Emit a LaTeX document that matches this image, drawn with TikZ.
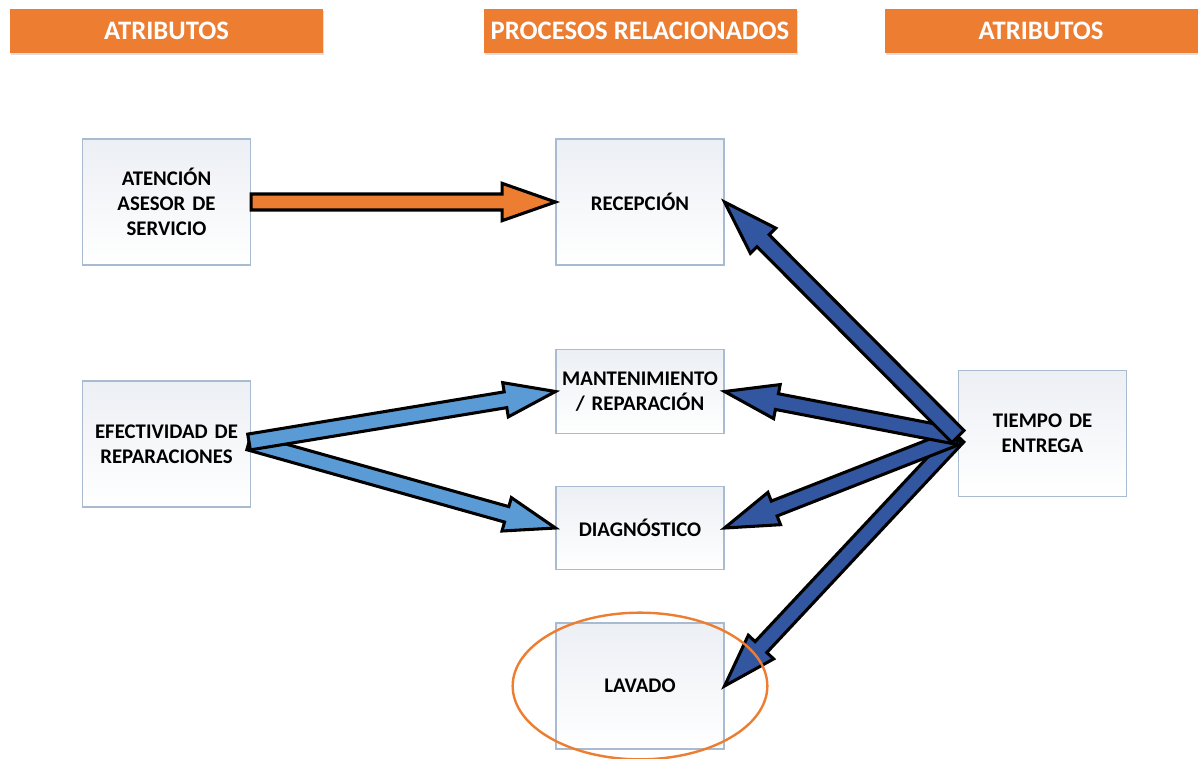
\documentclass[tikz,border=0pt]{standalone}
\usepackage{fontspec}
\setmainfont{Carlito}
\usetikzlibrary{calc,shadows}

\definecolor{hdrorange}{HTML}{ED7D31}
\definecolor{lightblue}{HTML}{5B9BD5}
\definecolor{darkblue}{HTML}{3356A0}
\definecolor{boxedge}{HTML}{A9BBD0}
\definecolor{boxtop}{HTML}{ECEFF4}

% block arrow: style, tail, tip, shaft half-width, head length, head half-width
\newcommand{\blockarrow}[6]{%
  \path ($(#3)!#5!(#2)$) coordinate (ba-n);
  \draw[#1] ($(#2)!#4!90:(#3)$) -- ($(ba-n)!#4!90:(#3)$) -- ($(ba-n)!#6!90:(#3)$)
    -- (#3) -- ($(ba-n)!#6!-90:(#3)$) -- ($(ba-n)!#4!-90:(#3)$)
    -- ($(#2)!#4!-90:(#3)$) -- cycle;
}

\begin{document}
\begin{tikzpicture}[x=0.75pt,y=-0.75pt,
  header/.style={fill=hdrorange, text=white, font=\bfseries\fontsize{20}{24}\selectfont,
    minimum width=234.75pt, minimum height=33pt, inner sep=0pt,
    drop shadow={opacity=0.25, shadow xshift=1pt, shadow yshift=-1.2pt}},
  proc/.style={draw=boxedge, line width=0.8pt, top color=boxtop, bottom color=white,
    minimum width=126pt, inner sep=1pt, text width=124pt, align=center,
    font=\bfseries\fontsize{15.6}{18.8}\selectfont},
  tallbox/.style={proc, minimum height=94.5pt},
  shortbox/.style={proc, minimum height=62.5pt},
  arrowline/.style={draw=black, line width=2.3pt, line join=miter, miter limit=10},
  highlight/.style={draw=hdrorange, line width=1.8pt}]

\useasboundingbox (0,0) rectangle (1198,758);
\fill[white] (0,0) rectangle (1198,758);

% column headers
\node[header] (h1) at (166.5,31) {ATRIBUTOS};
\node[header] (h2) at (640,31) {PROCESOS RELACIONADOS};
\node[header] (h3) at (1041,31) {ATRIBUTOS};

% attribute and process boxes
\node[tallbox] (ate) at (166.5,202) {ATENCIÓN\\ASESOR DE\\SERVICIO};
\node[tallbox] (rec) at (640,202) {RECEPCIÓN};
\node[tallbox] (efe) at (166.5,444) {EFECTIVIDAD DE\\REPARACIONES};
\node[shortbox] (man) at (640,391.5) {MANTENIMIENTO\\/ REPARACIÓN};
\node[shortbox] (dia) at (640,528) {DIAGNÓSTICO};
\node[tallbox] (lav) at (640,686) {LAVADO};
\node[tallbox] (tie) at (1042.5,433.5) {TIEMPO DE\\ENTREGA};

% tail points of the arrow groups
\coordinate (efe-out) at ($(efe.east)+(-2,-2)$);
\coordinate (hub) at ($(tie.west)+(0,3)$);

% attention -> reception
\blockarrow{arrowline, fill=hdrorange}{ate.east}{rec.west}{6pt}{40pt}{14pt}

% repair effectiveness -> maintenance / diagnosis
\blockarrow{arrowline, fill=lightblue}{efe-out}{dia.west}{6pt}{38pt}{13pt}
\blockarrow{arrowline, fill=lightblue}{efe-out}{man.west}{6pt}{38pt}{13pt}

% delivery time -> processes
\blockarrow{arrowline, fill=darkblue}{hub}{lav.east}{6pt}{40pt}{13pt}
\blockarrow{arrowline, fill=darkblue}{hub}{dia.east}{6pt}{40pt}{13pt}
\blockarrow{arrowline, fill=darkblue}{hub}{man.east}{6pt}{40pt}{13pt}
\blockarrow{arrowline, fill=darkblue}{hub}{rec.east}{6.4pt}{41pt}{13.4pt}

% highlight around the washing step
\draw[highlight] (lav.center) ellipse [x radius=95.5pt, y radius=55pt];

\end{tikzpicture}
\end{document}
